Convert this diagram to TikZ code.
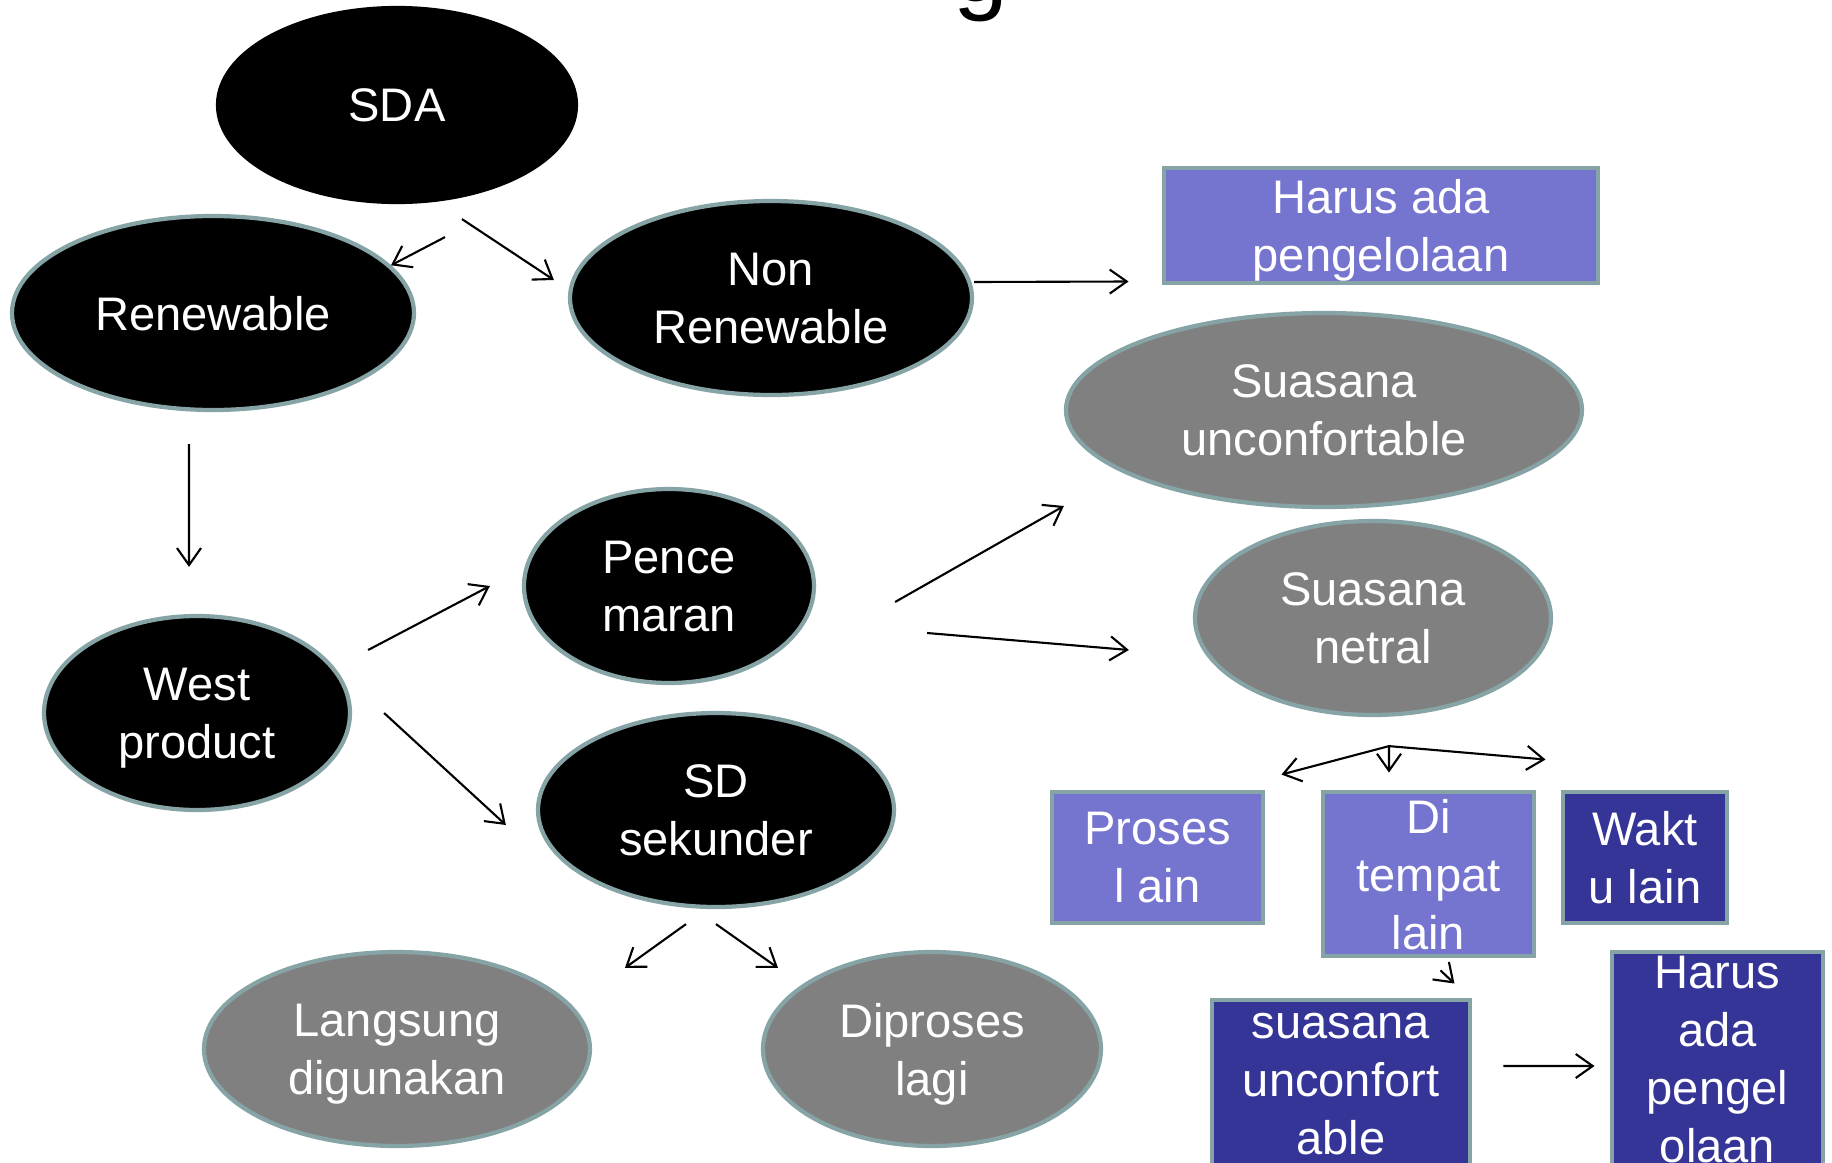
\documentclass[tikz,border=0pt]{standalone}
\usepackage{fontspec}
\setmainfont{Liberation Sans}
\usetikzlibrary{arrows.meta,shapes.geometric}

\definecolor{rim}{RGB}{134,163,166}
\definecolor{lavender}{RGB}{117,117,208}
\definecolor{deepblue}{RGB}{53,53,151}
\definecolor{midgray}{RGB}{128,128,128}

\begin{document}
\begin{tikzpicture}[
	blob/.style={
		ellipse,
		draw=rim,
		line width=1.2pt,
		fill=black,
		text=white,
		align=center,
		inner sep=0pt,
		text depth=0pt,
		minimum height=1.94cm,
		font=\fontsize{13.4}{16.5}\selectfont
	},
	greyblob/.style={blob, fill=midgray},
	card/.style={
		rectangle,
		draw=rim,
		line width=1.4pt,
		fill=lavender,
		text=white,
		align=center,
		inner sep=0pt,
		text depth=0pt,
		font=\fontsize{13.4}{16.5}\selectfont
	},
	darkcard/.style={card, fill=deepblue},
	edge/.style={-{Straight Barb[length=1.7mm,width=2.4mm]}, line width=0.6pt, black}
]
\useasboundingbox (0,0) rectangle (18.32,-11.63);

\node[anchor=base, font=\fontsize{28}{34}\selectfont] (titleg) at (9.81,-0.01) {g};

\node[blob, draw=black, minimum width=3.58cm] (sda) at (3.97,-1.05) {SDA};
\node[blob, minimum width=4.02cm] (renew) at (2.13,-3.13) {Renewable};
\node[blob, minimum width=4.02cm] (nonrenew) at (7.71,-2.98) {Non\\Renewable};
\node[card, minimum width=4.34cm, minimum height=1.15cm] (harus) at (13.81,-2.255) {Harus ada\\pengelolaan};
\node[greyblob, minimum width=5.16cm] (suasu) at (13.24,-4.10) {Suasana\\unconfortable};
\node[greyblob, minimum width=3.56cm] (suasn) at (13.73,-6.18) {Suasana\\netral};
\node[blob, minimum width=2.90cm] (pence) at (6.69,-5.86) {Pence\\maran};
\node[blob, minimum width=3.06cm] (west) at (1.97,-7.13) {West\\product};
\node[blob, minimum width=3.56cm] (sdsek) at (7.16,-8.10) {SD\\sekunder};
\node[greyblob, minimum width=3.86cm] (langsung) at (3.97,-10.49) {Langsung\\digunakan};
\node[greyblob, minimum width=3.38cm] (diproses) at (9.32,-10.49) {Diproses\\lagi};
\node[card, minimum width=2.11cm, minimum height=1.31cm] (proses) at (11.575,-8.575) {Proses\\l ain};
\node[card, minimum width=2.11cm, minimum height=1.64cm] (tempat) at (14.285,-8.74) {Di\\tempat\\lain};
\node[darkcard, minimum width=1.64cm, minimum height=1.31cm] (waktu) at (16.45,-8.575) {Wakt\\u lain};
\node[darkcard, minimum width=2.58cm, minimum height=1.68cm] (suasbox) at (13.41,-10.84) {suasana\\unconfort\\able};
\node[darkcard, minimum width=2.11cm, minimum height=2.14cm] (harusbox) at (17.175,-10.59) {Harus\\ada\\pengel\\olaan};

\coordinate (fork) at ([xshift=1.6mm,yshift=-2.9mm]suasn.south);

\draw[edge] ([xshift=4.8mm,yshift=-3.3mm]sda.south) -- (renew.15);
\draw[edge] ([xshift=6.5mm,yshift=-1.5mm]sda.south) -- ([xshift=-1.4mm,yshift=1.8mm]nonrenew.west);
\draw[edge] ([yshift=1.6mm]nonrenew.east) -- ([xshift=-3.3mm,yshift=-5.6mm]harus.west);
\draw[edge] ([xshift=-2.4mm,yshift=-3.2mm]renew.south) -- ([xshift=-0.8mm,yshift=4.7mm]west.north);
\draw[edge] ([xshift=1.6mm,yshift=6.3mm]west.east) -- ([xshift=-3.2mm]pence.west);
\draw[edge] ([xshift=3.2mm]west.east) -- ([xshift=-3mm,yshift=-1.5mm]sdsek.west);
\draw[edge] ([xshift=7.9mm,yshift=-1.6mm]pence.east) -- ([yshift=-9.6mm]suasu.west);
\draw[edge] ([xshift=11.1mm,yshift=-4.7mm]pence.east) -- ([xshift=-6.4mm,yshift=-3.2mm]suasn.west);
\draw[edge] ([xshift=-3mm,yshift=-1.5mm]sdsek.south) -- ([xshift=9mm,yshift=1.1mm]langsung.north east);
\draw[edge] ([yshift=-1.5mm]sdsek.south) -- ([xshift=-3.3mm,yshift=1.1mm]diproses.north west);
\draw[edge] (fork) -- ([xshift=1.6mm,yshift=1.5mm]proses.north east);
\draw[edge] (fork) -- ([xshift=-3.95mm,yshift=1.7mm]tempat.north);
\draw[edge] (fork) -- ([xshift=-1.5mm,yshift=3mm]waktu.north west);
\draw[edge] ([xshift=1.2mm,yshift=-1.2mm]tempat.south) -- ([xshift=-1.8mm,yshift=1.4mm]suasbox.north east);
\draw[edge] ([xshift=3.1mm,yshift=1.8mm]suasbox.east) -- ([xshift=-1.5mm,yshift=-0.7mm]harusbox.west);
\end{tikzpicture}
\end{document}
